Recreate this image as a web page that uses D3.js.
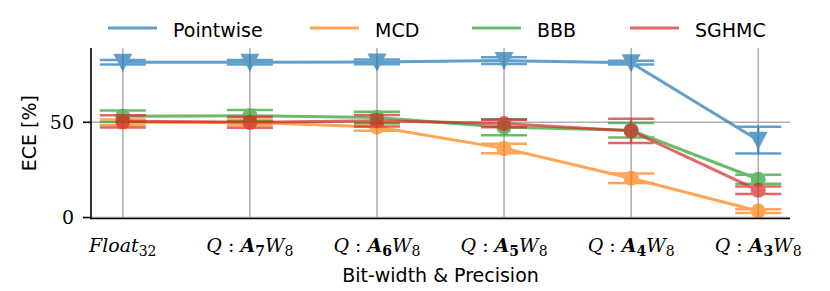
<!DOCTYPE html>
<html>
<head>
<meta charset="utf-8">
<script src="https://cdn.jsdelivr.net/npm/d3@7"></script>
<style>
  body { margin: 0; background: #fff; }
  svg { display: block; }
</style>
</head>
<body>
<svg id="chart" width="830" height="291"></svg>
<script>
const levels = ['Float32', 'A7W8', 'A6W8', 'A5W8', 'A4W8', 'A3W8'];
const seriesNames = ['Pointwise', 'MCD', 'BBB', 'SGHMC'];

const pointwise = [81.5, 81.5, 81.7, 82.4, 81.3, 40.6];
const pointwiseErr = [1.2, 1.2, 1.2, 1.8, 1.0, 7.0];
const mcd = [50.0, 50.0, 47.5, 36.3, 20.6, 3.4];
const mcdErr = [1.5, 1.5, 2.0, 2.5, 2.5, 1.0];
const bbb = [53.2, 53.5, 52.5, 47.4, 45.8, 20.1];
const bbbErr = [3.0, 3.0, 3.0, 4.2, 3.8, 2.4];
const sghmc = [50.5, 50.0, 50.8, 49.4, 45.5, 14.3];
const sghmcErr = [3.2, 2.9, 3.0, 2.0, 6.4, 2.0];

const yTicks = [0, 50];

const colors = ['#1f77b4', '#ff7f0e', '#2ca02c', '#d62728'];
const markers = ['triangle', 'circle', 'circle', 'circle'];
const means = [pointwise, mcd, bbb, sghmc];
const errs = [pointwiseErr, mcdErr, bbbErr, sghmcErr];

const svg = d3.select('#chart');
const mLeft = 91, mRight = 790, mTop = 48, mBottom = 218.5;

const x = d3.scaleLinear().domain([-0.25, levels.length - 0.75]).range([mLeft, mRight]);
const y = d3.scaleLinear().domain([-0.5, 89]).range([mBottom, mTop]);

// grid
const grid = svg.append('g').attr('stroke', '#b0b0b0').attr('stroke-width', 1.6);
grid.selectAll('line.v').data(levels).join('line')
  .attr('x1', (d, i) => x(i)).attr('x2', (d, i) => x(i))
  .attr('y1', mTop).attr('y2', mBottom);
grid.selectAll('line.h').data(yTicks).join('line')
  .attr('x1', mLeft).attr('x2', mRight)
  .attr('y1', d => y(d)).attr('y2', d => y(d));

// series
const line = d3.line().x((d, i) => x(i)).y(d => y(d));
const capHalf = 23;
means.forEach((vals, s) => {
  const g = svg.append('g').attr('opacity', 0.7);
  const c = colors[s];
  g.append('path').datum(vals)
    .attr('d', line).attr('fill', 'none')
    .attr('stroke', c).attr('stroke-width', 3);
  vals.forEach((v, i) => {
    const e = errs[s][i];
    const cx = x(i);
    g.append('line').attr('x1', cx).attr('x2', cx)
      .attr('y1', y(v - e)).attr('y2', y(v + e))
      .attr('stroke', c).attr('stroke-width', 2.5);
    [v - e, v + e].forEach(w => {
      g.append('line').attr('x1', cx - capHalf).attr('x2', cx + capHalf)
        .attr('y1', y(w)).attr('y2', y(w))
        .attr('stroke', c).attr('stroke-width', 2.5);
    });
    if (markers[s] === 'circle') {
      g.append('circle').attr('cx', cx).attr('cy', y(v)).attr('r', 7.5).attr('fill', c);
    } else {
      const cy = y(v);
      g.append('path')
        .attr('d', `M${cx - 9.5},${cy - 8.5}L${cx + 9.5},${cy - 8.5}L${cx},${cy + 9.5}Z`)
        .attr('fill', c);
    }
  });
});

// spines
svg.append('line').attr('x1', mLeft).attr('x2', mLeft).attr('y1', mTop).attr('y2', mBottom + 0.8)
  .attr('stroke', '#000').attr('stroke-width', 1.6);
svg.append('line').attr('x1', mLeft - 0.8).attr('x2', mRight).attr('y1', mBottom).attr('y2', mBottom)
  .attr('stroke', '#000').attr('stroke-width', 1.6);

const serif = "'DejaVu Serif', 'Liberation Serif', serif";

// y ticks
const yt = svg.append('g');
yTicks.forEach(t => {
  yt.append('line').attr('x1', mLeft - 8).attr('x2', mLeft).attr('y1', y(t)).attr('y2', y(t))
    .attr('stroke', '#000').attr('stroke-width', 1.6);
  yt.append('text').attr('x', mLeft - 17).attr('y', y(t)).attr('dy', '0.36em')
    .attr('text-anchor', 'end').attr('font-family', serif)
    .attr('font-size', 19).text(t);
});

// x tick labels (math style)
levels.forEach((lv, i) => {
  const t = svg.append('text').attr('x', x(i)).attr('y', 251.5)
    .attr('text-anchor', 'middle').attr('font-family', serif).attr('font-size', 19);
  if (lv === 'Float32') {
    t.append('tspan').attr('font-style', 'italic').text('Float');
    t.append('tspan').attr('font-size', 14).attr('dy', 4).text('32');
  } else {
    t.append('tspan').attr('font-style', 'italic').text('Q');
    t.append('tspan').text(' : ');
    t.append('tspan').attr('font-style', 'italic').attr('font-weight', 'bold').text('A');
    t.append('tspan').attr('font-weight', 'bold').attr('font-size', 14).attr('dy', 4).text(lv[1]);
    t.append('tspan').attr('font-style', 'italic').attr('dy', -4).text('W');
    t.append('tspan').attr('font-size', 14).attr('dy', 4).text(lv[3]);
  }
});

// axis labels
svg.append('text').attr('x', (mLeft + mRight) / 2).attr('y', 281.5)
  .attr('text-anchor', 'middle').attr('font-family', 'DejaVu Sans').attr('font-size', 19)
  .text('Bit-width & Precision');
svg.append('text').attr('transform', `translate(36,${(mTop + mBottom) / 2}) rotate(-90)`)
  .attr('text-anchor', 'middle').attr('font-family', 'DejaVu Sans').attr('font-size', 19)
  .text('ECE [%]');

// legend
const legendX = [108, 310, 472, 630];
const lg = svg.append('g');
seriesNames.forEach((n, s) => {
  lg.append('line').attr('x1', legendX[s]).attr('x2', legendX[s] + 49)
    .attr('y1', 28).attr('y2', 28)
    .attr('stroke', colors[s]).attr('stroke-width', 3).attr('opacity', 0.7);
  lg.append('text').attr('x', legendX[s] + 65).attr('y', 36.5)
    .attr('font-family', 'DejaVu Sans').attr('font-size', 19).text(n);
});
</script>
</body>
</html>
